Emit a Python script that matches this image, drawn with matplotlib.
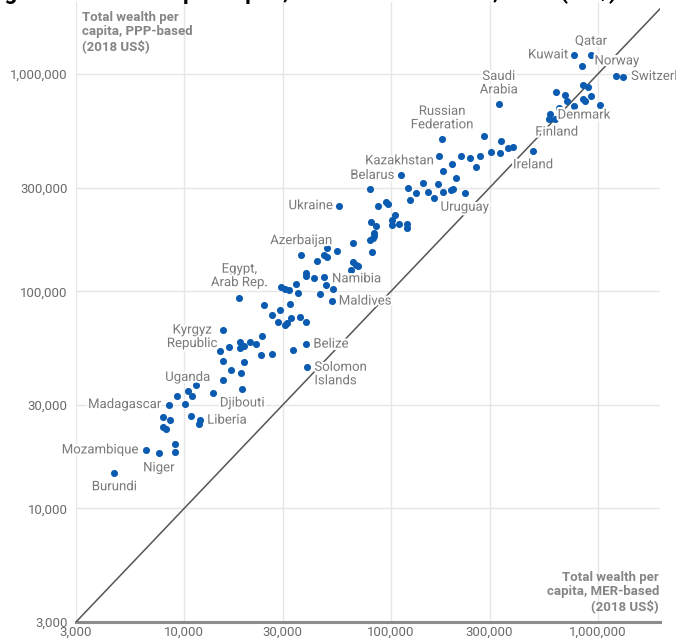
import matplotlib
matplotlib.use("Agg")
import matplotlib.pyplot as plt
import matplotlib.patheffects as pe
from matplotlib.ticker import FixedLocator, NullLocator

# ---------------- data ----------------
# labelled countries: MER-based and PPP-based total wealth per capita (2018 US$)
label_names = ["Qatar", "Kuwait", "Norway", "Switzerland", "Saudi\nArabia",
               "Russian\nFederation", "Denmark", "Finland", "Ireland", "Kazakhstan",
               "Belarus", "Ukraine", "Uruguay", "Azerbaijan", "Namibia", "Maldives",
               "Egypt,\nArab Rep.", "Kyrgyz\nRepublic", "Belize", "Solomon\nIslands",
               "Uganda", "Madagascar", "Djibouti", "Liberia", "Mozambique", "Niger",
               "Burundi"]
label_mer = [929000, 771000, 843500, 1325000, 332600,
             177000, 584500, 619500, 486800, 171000,
             111400, 56100, 227600, 36900, 47450, 51750,
             18500, 15500, 38990, 39440,
             10420, 8440, 19130, 11950, 6530, 7550,
             4600]
label_ppp = [1222000, 1227000, 1091000, 966000, 727800,
             502500, 655000, 621000, 443800, 420800,
             342000, 247900, 283000, 147600, 116600, 90150,
             93300, 66500, 57150, 44800,
             34600, 30100, 35500, 25500, 18600, 18030,
             14600]

# other countries (unlabelled)
other_mer = [9020, 9080, 7920, 8560, 7940, 8190, 10150, 9220, 10930, 11430,
             10840, 11860, 13770, 15380, 18900, 16870, 15490, 19500, 14930, 16550,
             18650, 18700, 19420, 20900, 22280, 23880, 23550, 26700, 33500, 28570,
             30850, 31340, 38990, 282400, 338800, 304100, 337300, 367300, 387300, 217300,
             239900, 269800, 258200, 196400, 179000, 205500, 142300, 169300, 121300, 132500,
             151400, 161400, 179000, 195500, 199500, 124000, 79200, 86270, 94200, 96800,
             104500, 79800, 84330, 100700, 101400, 109300, 119900, 119900, 82450, 83000,
             81600, 78900, 80900, 65500, 55050, 49100, 47450, 49100, 43950, 65500,
             67750, 69500, 63850, 38850, 38990, 42350, 34650, 48400, 52600, 29310,
             30650, 32060, 35650, 45250, 24430, 28990, 32510, 26540, 32890, 36460,
             1231000, 846500, 901500, 631000, 693000, 711000, 853000, 868500, 929000, 771000,
             1023000, 653000, 582100]
other_ppp = [18230, 19900, 26300, 25500, 23650, 23250, 30200, 33000, 33100, 36900,
             26700, 24600, 34150, 39000, 42100, 43550, 47750, 47100, 53250, 55700,
             54800, 58400, 56000, 58200, 57400, 62200, 50900, 51600, 53450, 72150,
             70150, 71650, 71900, 520400, 490600, 439500, 433500, 455000, 460300, 418800,
             412100, 420800, 372400, 385500, 358100, 331300, 315500, 312000, 298000, 283000,
             285800, 269900, 287600, 293800, 296000, 263500, 296000, 246500, 257000, 253400,
             224900, 208000, 199500, 213300, 201400, 204200, 203700, 195900, 185800, 180600,
             176200, 172500, 152400, 166700, 153500, 158100, 147200, 144500, 138600, 136200,
             132800, 130600, 125600, 121300, 118200, 115300, 108200, 107400, 102700, 105200,
             103000, 101300, 98400, 96700, 86950, 82000, 87300, 77750, 75500, 76560,
             982500, 893000, 871000, 829500, 803500, 751500, 767500, 754000, 794500, 714500,
             720000, 698000, 621000]

ticks = [3000, 10000, 30000, 100000, 300000, 1000000]
tick_labels = ["3,000", "10,000", "30,000", "100,000", "300,000", "1,000,000"]
axis_min, axis_max = 3000, 2000000

# label placement: (dx px, dy px, ha)
label_pos = {
    "Qatar": (0, 14, "center"), "Kuwait": (-6, 0, "right"), "Norway": (12, 5, "left"),
    "Switzerland": (8, 1, "left"), "Saudi\nArabia": (0, 21, "center"),
    "Russian\nFederation": (0, 21, "center"), "Denmark": (8, -1, "left"),
    "Finland": (2, -13, "center"), "Ireland": (0, -14, "center"),
    "Kazakhstan": (-5, -5, "right"), "Belarus": (-6, 0, "right"), "Ukraine": (-6, 0, "right"),
    "Uruguay": (0, -14, "center"), "Azerbaijan": (0, 14, "center"), "Namibia": (8, -2, "left"),
    "Maldives": (7, 0, "left"), "Egypt,\nArab Rep.": (0, 22, "center"),
    "Kyrgyz\nRepublic": (-6, -7, "right"), "Belize": (7, 0, "left"),
    "Solomon\nIslands": (7, -7, "left"), "Uganda": (0, 14, "center"),
    "Madagascar": (-7, 0, "right"), "Djibouti": (0, -14, "center"), "Liberia": (7, 0, "left"),
    "Mozambique": (-7, 0, "right"), "Niger": (0, -15, "center"), "Burundi": (0, -14, "center"),
}

# ---------------- figure ----------------
plt.rcParams["font.family"] = ["Roboto", "DejaVu Sans"]
W, H = 676, 644
fig = plt.figure(figsize=(W / 100, H / 100), dpi=100)
ax = fig.add_axes([76 / W, (H - 622) / H, (660 - 76) / W, (622 - 2) / H])
ax.set_xscale("log")
ax.set_yscale("log")
ax.set_xlim(axis_min, axis_max)
ax.set_ylim(axis_min, 2150000)

grid_c = "#e6e6e6"
for t in ticks:
    ax.axvline(t, color=grid_c, lw=1, zorder=0)
    if t > axis_min:
        ax.axhline(t, color=grid_c, lw=1, zorder=0)

for s in ax.spines.values():
    s.set_visible(False)
ax.axhline(axis_min, color="#8c8c8c", lw=2.2, zorder=1, clip_on=False)

ax.xaxis.set_major_locator(FixedLocator(ticks))
ax.yaxis.set_major_locator(FixedLocator(ticks))
ax.xaxis.set_minor_locator(NullLocator())
ax.yaxis.set_minor_locator(NullLocator())
ax.set_xticklabels(tick_labels)
ax.set_yticklabels(tick_labels)
ax.tick_params(axis="both", length=0, labelsize=9.5, labelcolor="#6b6b6b")
ax.tick_params(axis="x", pad=3)
ax.tick_params(axis="y", pad=6)

# 45-degree reference line
ax.plot([axis_min, axis_max], [axis_min, axis_max], color="#555555", lw=1.1, zorder=2)

dot_c = "#0b5cb0"
ax.scatter(other_mer, other_ppp, s=26, color=dot_c, zorder=3, linewidths=0)
ax.scatter(label_mer, label_ppp, s=26, color=dot_c, zorder=3, linewidths=0)

halo = [pe.withStroke(linewidth=3, foreground="white")]
for name, x, y in zip(label_names, label_mer, label_ppp):
    dx, dy, ha = label_pos[name]
    ma = "left" if ha == "left" else "center"
    ax.annotate(name, (x, y), xytext=(dx, dy), textcoords="offset pixels",
                ha=ha, va="center", multialignment=ma, fontsize=9.5, color="#7a7a7a",
                linespacing=1.05, zorder=4, path_effects=halo, annotation_clip=False)

title_c = "#858585"
fig.text(82 / W, 1 - 11 / H, "Total wealth per\ncapita, PPP-based\n(2018 US$)",
         ha="left", va="top", fontsize=9.5, fontweight="bold", color=title_c, linespacing=1.1)
fig.text(659 / W, 1 - 571 / H, "Total wealth per\ncapita, MER-based\n(2018 US$)",
         ha="right", va="top", fontsize=9.5, fontweight="bold", color=title_c,
         linespacing=1.1, multialignment="right")

# chart title, cropped at the top edge of the image (only descenders show)
fig.text(-93 / W, 1 + 1.5 / H,
         "Comparing the total wealth per capita, MER vs. PPP-based, 2018 (US$)",
         ha="left", va="baseline", fontsize=16, fontweight="bold", color="black")

fig.savefig("out.png", dpi=100)
